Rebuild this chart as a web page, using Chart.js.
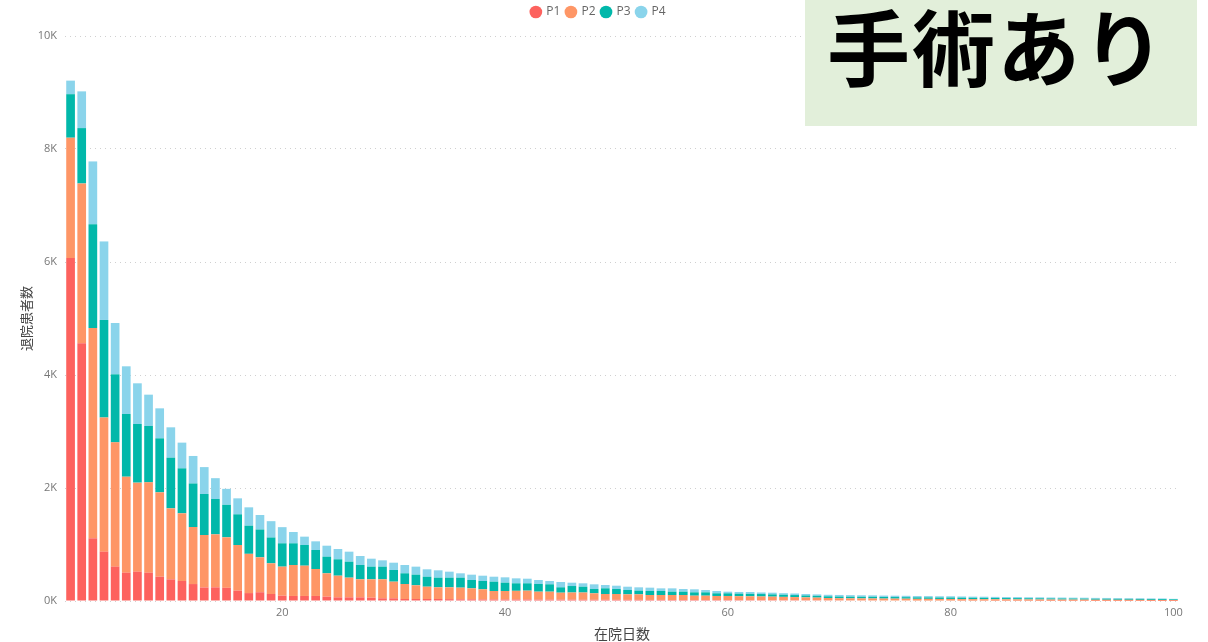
<!DOCTYPE html>
<html>
<head>
<meta charset="utf-8">
<script src="https://cdn.jsdelivr.net/npm/chart.js@4"></script>
<style>
  html, body { margin: 0; padding: 0; background: #fff; }
  #wrap { position: relative; width: 1208px; height: 642px; overflow: hidden; }
  #c { position: absolute; left: 0; top: 0; }
  #badge {
    position: absolute; left: 805px; top: 0; width: 392px; height: 126px;
    background: #E2EFDA;
    font-family: "Noto Sans CJK JP", sans-serif; font-weight: 700;
    font-size: 83px; color: #000; line-height: 1;
  }
  #badge span { position: absolute; left: 22px; top: 3px; letter-spacing: 2px; }
</style>
</head>
<body>
<div id="wrap">
  <canvas id="c" width="1208" height="642"></canvas>
  <div id="badge"><span>手術あり</span></div>
</div>
<script>
// ---- data ----
const categories = Array.from({length: 100}, (_, i) => String(i + 1));
const seriesNames = ["P1", "P2", "P3", "P4"];
const p1 = [6070,4560,1110,873,608,501,519,501,430,383,
            354,300,240,242,233,183,140,155,124,94,
            89,89,89,77,65,65,65,59,48,48,
            35,35,35,35,33,30,30,28,28,27,
            27,27,25,25,24,24,22,22,21,21,
            20,20,19,19,18,18,17,17,16,16,
            15,15,14,14,13,13,12,12,11,11,
            10,10,10,9,9,9,8,8,8,8,
            7,7,7,6,6,6,6,5,5,5,
            5,5,4,4,4,4,4,3,3,3];
const p2 = [2130,2830,3720,2377,2200,1699,1576,1599,1493,1257,
            1198,1010,928,938,894,808,695,618,543,514,
            548,536,477,413,383,348,319,325,336,294,
            266,243,218,207,209,206,194,179,149,150,
            153,156,140,140,123,126,128,114,103,103,
            98,98,87,87,88,88,77,77,73,73,
            70,68,66,63,60,56,52,48,42,38,
            37,36,35,34,33,32,30,30,28,28,
            27,26,25,25,24,23,22,22,21,20,
            20,19,18,18,17,17,16,16,15,14];
const p3 = [770,980,1840,1724,1204,1110,1038,998,956,897,
            796,770,726,625,575,543,498,492,457,413,
            384,366,337,295,290,283,253,224,224,207,
            189,188,177,171,171,177,148,147,165,147,
            133,130,136,130,95,115,103,76,100,88,
            77,65,71,71,59,59,59,59,47,47,
            45,44,43,40,38,36,34,32,30,30,
            30,29,30,28,28,27,27,26,26,26,
            25,24,24,23,22,22,21,21,20,20,
            19,19,18,18,17,16,16,15,15,13];
const p4 = [240,650,1110,1390,908,844,720,554,531,537,
            455,487,476,369,283,283,325,257,289,286,
            200,148,153,194,182,177,160,141,112,129,
            147,142,131,130,106,77,94,94,88,95,
            88,82,71,59,94,59,60,83,59,59,
            58,59,59,47,59,47,54,42,41,29,
            30,32,28,30,27,28,26,25,27,28,
            27,26,25,25,24,24,23,23,22,22,
            21,20,20,19,18,18,17,17,16,16,
            15,15,15,14,14,13,13,12,12,8];
const yTicks = [0, 2000, 4000, 6000, 8000, 10000];
const xTickLabels = ["20", "40", "60", "80", "100"];
const colors = ["#FD625E", "#FE9666", "#01B8AA", "#8AD4EB"];

const values = [p1, p2, p3, p4];
const datasets = seriesNames.map((n, i) => ({
  label: n,
  data: values[i],
  backgroundColor: colors[i],
  borderWidth: 0,
  barPercentage: 0.78,
  categoryPercentage: 1.0
}));

const legendHeight = {
  id: 'legendHeight',
  beforeInit(chart) {
    const orig = chart.legend.fit;
    chart.legend.fit = function () { orig.call(this); this.height = 36; };
  }
};

const font = "'Open Sans', 'Noto Sans', sans-serif";
const jpFont = "'Noto Sans CJK JP', sans-serif";

new Chart(document.getElementById('c'), {
  type: 'bar',
  data: { labels: categories, datasets },
  plugins: [legendHeight],
  options: {
    responsive: false,
    animation: false,
    layout: { padding: { left: 18, right: 29, top: 0, bottom: 0 } },
    plugins: {
      tooltip: { enabled: false },
      legend: {
        position: 'top',
        labels: {
          usePointStyle: true, pointStyle: 'circle', boxWidth: 9, boxHeight: 9,
          padding: 6, color: '#666', font: { family: font, size: 12 }
        }
      }
    },
    scales: {
      x: {
        stacked: true,
        grid: { display: false, drawTicks: false },
        border: { display: false },
        ticks: {
          autoSkip: false, maxRotation: 0, padding: 5,
          color: '#777', font: { family: font, size: 11 },
          callback: function (v, i) {
            const l = categories[i];
            return xTickLabels.includes(l) ? l : '';
          }
        },
        title: { display: true, text: '在院日数', color: '#444', padding: { top: 0, bottom: 0 },
                 font: { family: jpFont, size: 14 } },
        afterFit(s) { s.height = 41; }
      },
      y: {
        stacked: true, min: 0, max: 10000,
        afterBuildTicks(s) { s.ticks = yTicks.map(v => ({ value: v })); },
        grid: { color: '#d0d0d0', drawTicks: false, lineWidth: 1 },
        border: { display: false, dash: [1, 4] },
        ticks: {
          padding: 8, color: '#777', font: { family: font, size: 11 },
          callback: v => (v / 1000) + 'K'
        },
        title: { display: true, text: '退院患者数', color: '#444', padding: { top: 0, bottom: 4 },
                 font: { family: jpFont, size: 13 } },
        afterFit(s) { s.width = 47; }
      }
    }
  }
});
</script>
</body>
</html>
